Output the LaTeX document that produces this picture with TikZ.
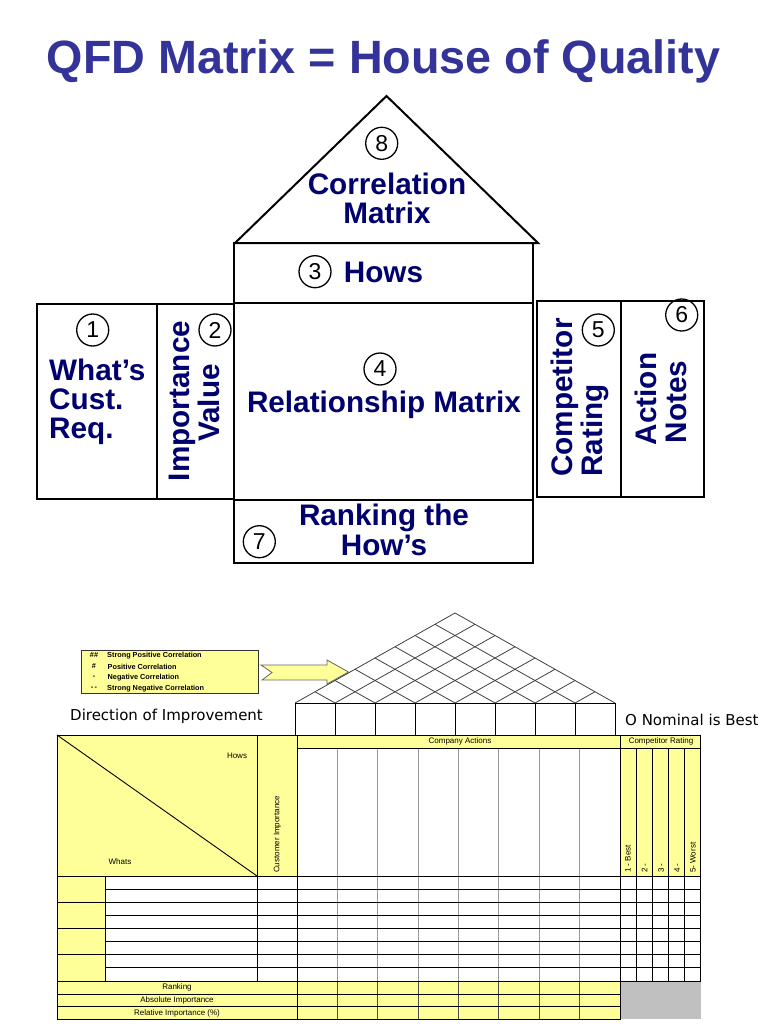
\documentclass[tikz,border=0pt]{standalone}
\usepackage{fontspec}
\setmainfont{Liberation Sans}
\newfontfamily\dejavu{DejaVu Sans}
\definecolor{titleblue}{RGB}{51,51,153}
\definecolor{navy}{RGB}{0,0,110}
\definecolor{yel}{RGB}{255,255,153}
\definecolor{grayfill}{RGB}{192,192,192}
\begin{document}
\begin{tikzpicture}[x=1pt,y=-1pt,
  big/.style={font=\bfseries\fontsize{29.7}{30}\selectfont, text=navy, inner sep=0pt},
  num/.style={circle, draw, line width=1.3pt, minimum size=32pt, inner sep=0pt, font=\fontsize{23}{23}\selectfont},
  house/.style={draw, line width=2pt},
  tiny/.style={font=\fontsize{8}{9}\selectfont, inner sep=0pt},
  legtext/.style={font=\bfseries\fontsize{7.3}{8}\selectfont, inner sep=0pt},
  tl/.style={draw=black, line width=0.9pt},
  roofline/.style={draw=black!75, line width=0.8pt},
  colline/.style={draw=black!40, line width=0.9pt}]
\useasboundingbox (0,0) rectangle (768,1024);

% ---------- title ----------
\node[font=\bfseries\fontsize{46.7}{50}\selectfont, text=titleblue, anchor=base, inner sep=0pt] (title) at (383.5,74) {QFD Matrix = House of Quality};

% ---------- house ----------
\coordinate (apex) at (386.5,96);
\coordinate (rl) at (235,243);
\coordinate (rr) at (538,243);
\draw[house, line join=miter] (rl) -- (apex) -- (rr) -- cycle;
\draw[house] (234,243) rectangle (533,500);
\draw[house] (234,303) -- (533,303);
\draw[house] (37,304) rectangle (234,499);
\draw[house] (157,304) -- (157,499);
\draw[house] (537,301) rectangle (704,497);
\draw[house] (621,301) -- (621,497);
\draw[house] (234,500) rectangle (533,563);

\node[num] (n8) at (381.7,143.3) {8};
\node[num] (n3) at (315,271.7) {3};
\node[num] (n1) at (92.7,330) {1};
\node[num] (n2) at (215,330) {2};
\node[num] (n4) at (380,369) {4};
\node[num] (n5) at (598.3,330) {5};
\node[num] (n6) at (681.7,315) {6};
\node[num] (n7) at (259.3,541.7) {7};

\node[big, anchor=base] (corr1) at (387,195) {Correlation};
\node[big, anchor=base] (corr2) at (387,223) {Matrix};
\node[big, anchor=base] (hows) at (383.5,282.5) {Hows};
\node[big, anchor=base] (relm) at (384,412) {Relationship Matrix};
\node[big, anchor=base] (rank1) at (384,525) {Ranking the};
\node[big, anchor=base] (rank2) at (384,555) {How’s};
\node[big, anchor=base west] (wh1) at (49,380) {What’s};
\node[big, anchor=base west] (wh2) at (49,409.5) {Cust.};
\node[big, anchor=base west] (wh3) at (49,438) {Req.};
\node[big, rotate=90, anchor=base] (imp1) at (189,401) {Importance};
\node[big, rotate=90, anchor=base] (imp2) at (219,403) {Value};
\node[big, rotate=90, anchor=base west] (comp1) at (572.7,477) {Competitor};
\node[big, rotate=90, anchor=base west] (comp2) at (602.7,477) {Rating};
\node[big, rotate=90, anchor=base] (act1) at (656,399) {Action};
\node[big, rotate=90, anchor=base] (act2) at (686,402) {Notes};

% ---------- legend ----------
\node[draw=black!80, line width=1pt, fill=yel, minimum width=177pt, minimum height=43pt, inner sep=0pt, anchor=north west] (legend) at (81,650) {};
\node[legtext] (s1) at (94,655.5) {\#\#};
\node[legtext] (s2) at (94,666.5) {\#};
\node[legtext] (s3) at (94,677.5) {-};
\node[legtext] (s4) at (94,688.5) {-\,-};
\node[legtext, anchor=west] (t1) at (107,655.5) {Strong Positive Correlation};
\node[legtext, anchor=west] (t2) at (107.5,666.5) {Positive Correlation};
\node[legtext, anchor=west] (t3) at (107.5,677.5) {Negative Correlation};
\node[legtext, anchor=west] (t4) at (107,688.5) {Strong Negative Correlation};

% arrow
\draw[fill=yel, draw=black!60, line width=0.8pt, line join=miter]
  (261,665) -- (327,665) -- (327,660) -- (348.5,672) -- (327,684) -- (327,680) -- (262,680) -- (272,672.5) -- cycle;

% ---------- roof grid ----------
\foreach \i in {0,...,8} {
  \pgfmathsetmacro{\xa}{295+40*\i}
  \pgfmathsetmacro{\xr}{295+20*(\i+8)}
  \pgfmathsetmacro{\yr}{703-20*(8-\i)*0.5625}
  \pgfmathsetmacro{\xl}{295+20*\i}
  \pgfmathsetmacro{\yl}{703-20*\i*0.5625}
  \draw[roofline] (\xa,703) -- (\xr,\yr);
  \draw[roofline] (\xa,703) -- (\xl,\yl);
  \draw[tl] (\xa,703) -- (\xa,735);
}
\draw[tl] (295,703) -- (615,703);

\node[font=\dejavu\fontsize{15}{16}\selectfont, anchor=base west, inner sep=0pt] (dir) at (70,720) {Direction of Improvement};
\node[font=\dejavu\fontsize{15}{16}\selectfont, anchor=base west, inner sep=0pt] (nom) at (625,725) {O Nominal is Best};

% ---------- main table ----------
\fill[yel] (57,735) rectangle (297,876);
\fill[yel] (297,735) rectangle (700,748);
\fill[yel] (620,748) rectangle (700,876);
\fill[yel] (57,876) rectangle (105,981);
\fill[yel] (57,981) rectangle (620,1019);
\fill[grayfill] (620,981) rectangle (701,1019);

\foreach \j in {1,...,7} {
  \pgfmathsetmacro{\cx}{297+40.375*\j}
  \draw[colline] (\cx,748) -- (\cx,981);
  \draw[draw=black!70, line width=0.9pt] (\cx,981) -- (\cx,1019);
}
\foreach \m in {1,...,4} {
  \pgfmathsetmacro{\kx}{620+16*\m}
  \draw[tl] (\kx,748) -- (\kx,981);
}
\foreach \k in {1,3,5,7} {
  \pgfmathsetmacro{\ry}{876+13.125*\k}
  \draw[tl] (105,\ry) -- (700,\ry);
}
\foreach \k in {2,4,6} {
  \pgfmathsetmacro{\ry}{876+13.125*\k}
  \draw[tl] (57,\ry) -- (700,\ry);
}
\draw[tl] (57,735) rectangle (700,981);
\draw[tl] (57,981) -- (57,1019) -- (620,1019) -- (620,981);
\draw[tl] (57,735) -- (257,876);
\draw[tl] (257,735) -- (257,981);
\draw[tl] (297,735) -- (297,1019);
\draw[tl] (620,735) -- (620,1019);
\draw[tl] (297,748) -- (700,748);
\draw[tl] (57,876) -- (700,876);
\draw[tl] (105,876) -- (105,981);
\draw[tl] (57,994) -- (620,994);
\draw[tl] (57,1006.5) -- (620,1006.5);

\node[tiny] (hw) at (237,756) {Hows};
\node[tiny] (wt) at (120,862) {Whats};
\node[tiny, rotate=90, anchor=west] (ci) at (277.5,873) {Customer Importance};
\node[tiny] (ca) at (460,741.5) {Company Actions};
\node[tiny] (cr) at (661,741.5) {Competitor Rating};
\node[tiny, rotate=90, anchor=west] (b1) at (628,873) {1 - Best};
\node[tiny, rotate=90, anchor=west] (b2) at (644.5,873) {2 -};
\node[tiny, rotate=90, anchor=west] (b3) at (661,873) {3 -};
\node[tiny, rotate=90, anchor=west] (b4) at (677,873) {4 -};
\node[tiny, rotate=90, anchor=west] (b5) at (693,873) {5- Worst};
\node[tiny] (rk) at (177,987.5) {Ranking};
\node[tiny] (ai) at (177,1000.5) {Absolute Importance};
\node[tiny] (ri) at (177,1013) {Relative Importance (\%)};
\end{tikzpicture}
\end{document}
